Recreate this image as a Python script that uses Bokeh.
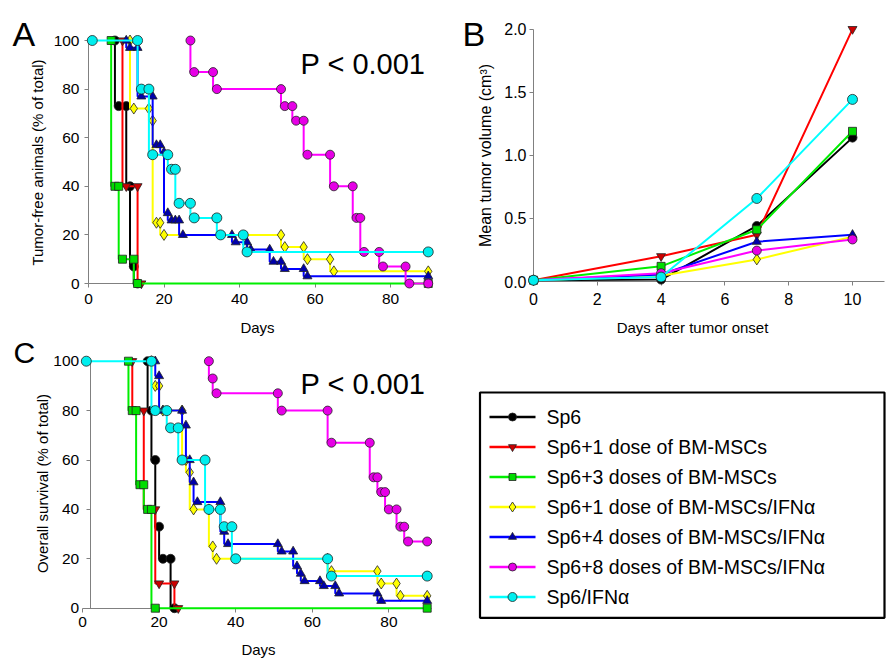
import math
from bokeh.plotting import figure
from bokeh.models import Range1d, FixedTicker, Label, PrintfTickFormatter
from bokeh.layouts import row, column
from bokeh.embed import file_html
from bokeh.resources import INLINE
from bokeh.core.properties import value

FONT = "Liberation Sans"
AXIS_GRAY = "#808080"

# ---------------- series definitions ----------------
names = ["Sp6", "Sp6+1 dose of BM-MSCs", "Sp6+3 doses of BM-MSCs",
         "Sp6+1 dose of BM-MSCs/IFNα", "Sp6+4 doses of BM-MSCs/IFNα",
         "Sp6+8 doses of BM-MSCs/IFNα", "Sp6/IFNα"]
line_colors = ["#000000", "#ff0000", "#00ee00", "#ffff00", "#0000ff", "#ff00ff", "#00ffff"]
marker_kinds = ["circle", "inverted_triangle", "square", "diamond", "triangle", "circle", "circle"]
marker_fills = ["#000000", "#cc0000", "#00dd00", "#ffff00", "#0000aa", "#e600e6", "#00eeee"]
marker_sizes = [9, 9, 8, 11, 9, 9, 10]

# ---------------- Panel A: tumor-free animals (%) ----------------
a_days_sp6 = [7, 8, 10, 11, 12, 13]
a_pct_sp6 = [100, 73, 73, 40, 7, 0]
a_days_1bm = [9, 10, 13, 14]
a_pct_1bm = [100, 40, 40, 0]
a_days_3bm = [6, 7, 8, 9, 12, 13, 90]
a_pct_3bm = [100, 40, 40, 10, 10, 0, 0]
a_days_1ifn = [11, 12, 16, 17, 18, 19, 20, 51, 52, 57, 58, 64, 65, 90]
a_pct_1ifn = [100, 72, 72, 67, 25, 25, 20, 20, 15, 15, 10, 10, 5, 5]
a_days_4ifn = [10, 11, 13, 14, 17, 18, 19, 20, 21, 22, 23, 24, 25, 38, 39, 42, 43, 48, 49, 51, 52, 57, 58, 90]
a_pct_4ifn = [100, 97, 97, 77, 77, 57, 57, 54, 29, 26, 26, 26, 20, 20, 17, 17, 14, 14, 9, 9, 6, 6, 3, 3]
a_days_8ifn = [27, 28, 33, 34, 51, 52, 54, 55, 57, 58, 64, 65, 70, 71, 72, 73, 77, 78, 84, 85, 90]
a_pct_8ifn = [100, 87, 87, 80, 80, 73, 73, 67, 67, 53, 53, 40, 40, 27, 27, 13, 13, 7, 7, 0, 0]
a_days_ifn = [1, 13, 14, 16, 17, 21, 22, 23, 24, 27, 28, 34, 35, 41, 42, 90]
a_pct_ifn = [100, 100, 80, 80, 53, 53, 47, 47, 33, 33, 27, 27, 20, 20, 13, 13]

# ---------------- Panel B: mean tumor volume ----------------
b_days = [0, 4, 7, 10]
b_vol_sp6 = [0.01, 0.015, 0.44, 1.14]
b_vol_1bm = [0.01, 0.20, 0.37, 2.0]
b_vol_3bm = [0.01, 0.12, 0.41, 1.19]
b_vol_1ifn = [0.01, 0.045, 0.175, 0.355]
b_vol_4ifn = [0.01, 0.055, 0.315, 0.37]
b_vol_8ifn = [0.01, 0.066, 0.245, 0.333]
b_vol_ifn = [0.01, 0.035, 0.658, 1.443]

# ---------------- Panel C: overall survival (%) ----------------
c_days_sp6 = [17, 18, 19, 20, 21, 23, 24]
c_pct_sp6 = [100, 80, 60, 33, 20, 20, 0]
c_days_1bm = [13, 16, 19, 20, 24, 25]
c_pct_1bm = [100, 80, 40, 10, 10, 0]
c_days_3bm = [12, 13, 14, 15, 16, 17, 18, 19, 90]
c_pct_3bm = [100, 80, 80, 50, 50, 40, 40, 0, 0]
c_days_1ifn = [18, 19, 20, 21, 26, 27, 28, 29, 33, 34, 35, 64, 65, 77, 78, 82, 83, 90]
c_pct_1ifn = [100, 90, 90, 80, 80, 60, 55, 40, 40, 25, 20, 20, 15, 15, 10, 10, 5, 5]
c_days_4ifn = [19, 20, 21, 26, 27, 28, 29, 30, 36, 37, 38, 51, 52, 55, 56, 57, 58, 62, 63, 66, 67, 77, 78, 90]
c_pct_4ifn = [100, 94, 80, 80, 74, 60, 51, 43, 43, 31, 26, 26, 23, 23, 17, 14, 11, 11, 9, 9, 6, 6, 3, 3]
c_days_8ifn = [33, 34, 35, 51, 52, 64, 65, 75, 76, 77, 78, 79, 80, 82, 83, 84, 85, 90]
c_pct_8ifn = [100, 93, 87, 87, 80, 80, 67, 67, 53, 53, 47, 47, 40, 40, 33, 33, 27, 27]
c_days_ifn = [1, 18, 19, 22, 23, 25, 26, 32, 33, 36, 37, 39, 40, 64, 65, 90]
c_pct_ifn = [100, 100, 80, 80, 73, 73, 60, 60, 40, 40, 33, 33, 20, 20, 13, 13]

a_days = [a_days_sp6, a_days_1bm, a_days_3bm, a_days_1ifn, a_days_4ifn, a_days_8ifn, a_days_ifn]
a_pct = [a_pct_sp6, a_pct_1bm, a_pct_3bm, a_pct_1ifn, a_pct_4ifn, a_pct_8ifn, a_pct_ifn]
b_vols = [b_vol_sp6, b_vol_1bm, b_vol_3bm, b_vol_1ifn, b_vol_4ifn, b_vol_8ifn, b_vol_ifn]
c_days = [c_days_sp6, c_days_1bm, c_days_3bm, c_days_1ifn, c_days_4ifn, c_days_8ifn, c_days_ifn]
c_pct = [c_pct_sp6, c_pct_1bm, c_pct_3bm, c_pct_1ifn, c_pct_4ifn, c_pct_8ifn, c_pct_ifn]

km_ticks_x = [0, 20, 40, 60, 80]
km_ticks_y = [0, 20, 40, 60, 80, 100]
b_ticks_x = [0, 2, 4, 6, 8, 10]
b_ticks_y = [0, 0.5, 1.0, 1.5, 2.0]


def build(x0, y0, x1, y1, ox, oy, kx, ky):
    """Figure covering page pixels x0..x1, y0..y1; whole figure is the frame.
    (ox, oy) is where data (0, 0) sits, kx/ky are pixels per data unit."""
    p = figure(width=x1 - x0, height=y1 - y0,
               x_range=Range1d((x0 - ox) / kx, (x1 - ox) / kx),
               y_range=Range1d((oy - y1) / ky, (oy - y0) / ky),
               min_border_left=0, min_border_right=0,
               min_border_top=0, min_border_bottom=0,
               output_backend="svg", toolbar_location=None)
    p.outline_line_color = None
    p.xgrid.visible = False
    p.ygrid.visible = False
    p.background_fill_color = "white"
    p.border_fill_color = "white"

    def tx(px):
        return (px - ox) / kx

    def ty(py):
        return (oy - py) / ky
    return p, tx, ty


def style_axes(p, xticks, yticks, xbounds, ybounds, xfix, yfix, xstand, ystand, fsize):
    xa = p.xaxis[0]
    ya = p.yaxis[0]
    xa.ticker = FixedTicker(ticks=xticks)
    ya.ticker = FixedTicker(ticks=yticks)
    xa.bounds = xbounds
    ya.bounds = ybounds
    xa.fixed_location = xfix
    ya.fixed_location = yfix
    for ax, st in ((xa, xstand), (ya, ystand)):
        ax.level = "underlay"
        ax.axis_line_color = AXIS_GRAY
        ax.axis_line_width = 1
        ax.major_tick_line_color = AXIS_GRAY
        ax.major_tick_out = 4
        ax.major_tick_in = 0
        ax.minor_tick_line_color = None
        ax.major_label_standoff = st
        ax.major_label_text_font = FONT
        ax.major_label_text_font_size = fsize
        ax.major_label_text_color = "black"
    return xa, ya


def label(p, x, y, text, size, align="left", baseline="alphabetic", angle=0.0):
    p.add_layout(Label(x=x, y=y, text=text, text_font=FONT, text_font_size=size,
                       text_align=align, text_baseline=baseline, angle=angle,
                       text_color="black"))


def draw_km(p, days, pct):
    for i in range(len(names)):
        p.step(days[i], pct[i], mode="before", line_color=line_colors[i], line_width=2)
        p.scatter(days[i], pct[i], marker=marker_kinds[i], size=marker_sizes[i],
                  fill_color=marker_fills[i], line_color="#222222", line_width=0.8)


# ---------------- Panel A (page 0..450 x 0..314) ----------------
pA, axA, ayA = build(0, 0, 450, 314, 88, 283, 3.775, 2.43)
style_axes(pA, km_ticks_x, km_ticks_y, (0, 91), (0, 100), 0, 0, 6, 5, "15.5px")
draw_km(pA, a_days, a_pct)
label(pA, axA(12), ayA(33), "A", "34px")
label(pA, axA(425), ayA(63), "P < 0.001", "29px", align="right")
label(pA, axA(37), ayA(162), "Tumor-free animals (% of total)", "15px",
      align="center", baseline="middle", angle=math.pi / 2)

# ---------------- Panel C (page 0..450 x 314..661) ----------------
pC, axC, ayC = build(0, 314, 450, 661, 82, 607.7, 3.83, 2.47)
style_axes(pC, km_ticks_x, km_ticks_y, (0, 91), (0, 100), 0, 2, 5, 7, "15.5px")
draw_km(pC, c_days, c_pct)
label(pC, axC(257), ayC(327), "Days", "15px", align="center", baseline="middle")  # x title of panel A
label(pC, axC(13), ayC(352), "C", "30px")
label(pC, axC(425), ayC(383), "P < 0.001", "29px", align="right")
label(pC, axC(42), ayC(483), "Overall survival (% of total)", "15px",
      align="center", baseline="middle", angle=math.pi / 2)
label(pC, axC(258), ayC(649), "Days", "15px", align="center", baseline="middle")

# ---------------- Panel B (page 450..886 x 0..340) ----------------
pB, axB, ayB = build(450, 0, 886, 340, 533, 281, 31.9, 126.2)
xaB, yaB = style_axes(pB, b_ticks_x, b_ticks_y, (0, 11), (0, 2), 0, 0, 7, 3, "16px")
yaB.formatter = PrintfTickFormatter(format="%.1f")
for i in range(len(names)):
    pB.line(b_days, b_vols[i], line_color=line_colors[i], line_width=2)
    pB.scatter(b_days, b_vols[i], marker=marker_kinds[i], size=marker_sizes[i],
               fill_color=marker_fills[i], line_color="#222222", line_width=0.8)
label(pB, axB(462), ayB(33), "B", "34px")
label(pB, axB(485), ayB(155), "Mean tumor volume (cm³)", "16px",
      align="center", baseline="middle", angle=math.pi / 2)
label(pB, axB(692), ayB(327), "Days after tumor onset", "15px", align="center", baseline="middle")

# ---------------- Legend panel (page 450..886 x 340..661) ----------------
lg = figure(width=436, height=321, x_range=Range1d(450, 886), y_range=Range1d(661, 340),
            min_border_left=0, min_border_right=0, min_border_top=0, min_border_bottom=0,
            x_axis_location=None, y_axis_location=None,
            output_backend="svg", toolbar_location=None)
lg.outline_line_color = None
lg.xgrid.visible = False
lg.ygrid.visible = False
lg.quad(left=[479.5], right=[884], top=[392], bottom=[617.3],
        fill_color="white", line_color="black", line_width=2.2)
for i, name in enumerate(names):
    yy = 416.5 + 30 * i
    lg.line([489, 535], [yy, yy], line_color=line_colors[i], line_width=2.5)
    lg.scatter([512], [yy], marker=marker_kinds[i], size=marker_sizes[i] - 1,
               fill_color=marker_fills[i], line_color="#222222", line_width=0.8)
    lg.text([546], [yy], text=[name], text_font=value(FONT), text_font_size="19.5px",
            text_baseline="middle", text_align="left", text_color="black")

layout = row(column(pA, pC), column(pB, lg))
open("out.html", "w").write(file_html(layout, INLINE))
